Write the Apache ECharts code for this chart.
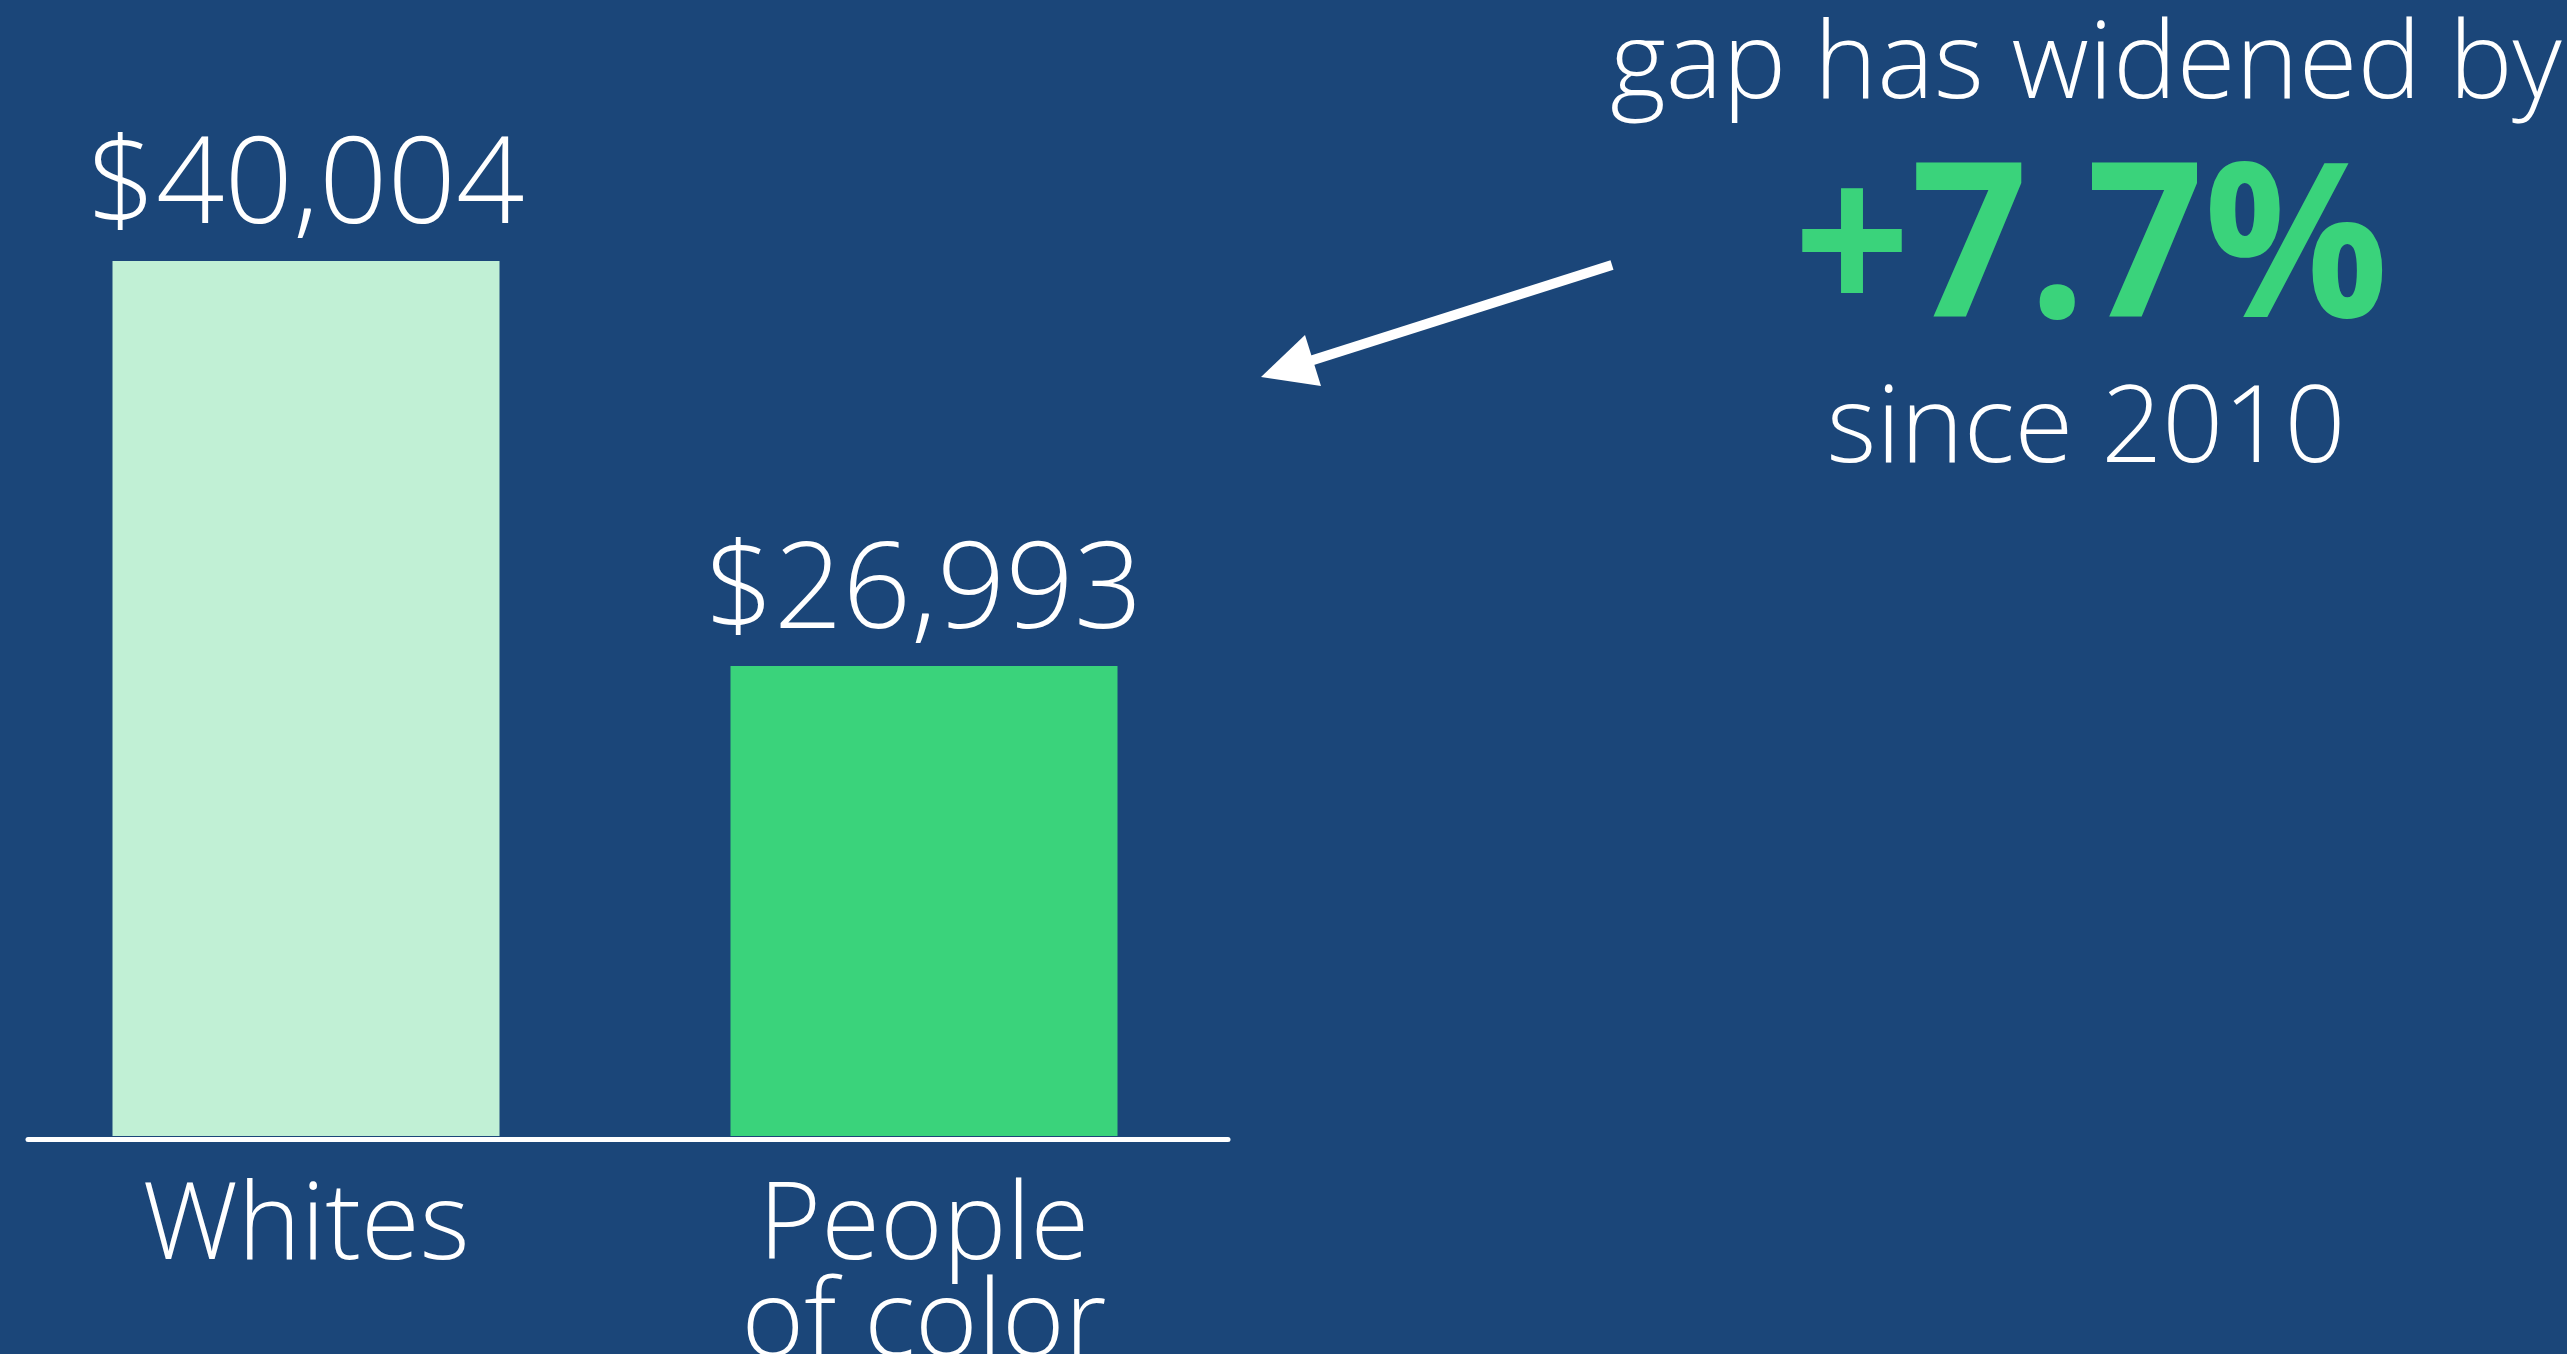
<!DOCTYPE html>
<html lang="en">
<head>
    <meta charset="UTF-8">
    <title>Income gap</title>
    <style>
        html, body {
            margin: 0;
            height: 100%;
            width: 100%;
            background: #1b4679;
        }
        .myEcharts {
            width: 100%;
            height: 100%;
        }
    </style>
</head>
<body>
    <div id="main" class="myEcharts"></div>
    <script src="https://cdn.jsdelivr.net/npm/echarts@6/dist/echarts.min.js"></script>
    <script>
        // data
        var groups = ['Whites', 'People\nof color'];
        var income = [40004, 26993];
        var barColors = ['#c1f0d5', '#3ad37b'];
        var noteTop = 'gap has widened by';
        var noteBig = '+7.7%';
        var noteBottom = 'since 2010';

        var font = '"Open Sans", Lato, sans-serif';
        var myCharts = echarts.init(document.getElementById('main'));

        var option = {
            backgroundColor: '#1b4679',
            animation: false,
            grid: [
                { left: -3, width: 1236, top: 261, bottom: 218, outerBoundsMode: 'none', containLabel: false },
                // only for the baseline rule under the bars
                { left: 28, width: 1200, top: 1000, bottom: 215, outerBoundsMode: 'none', containLabel: false }
            ],
            xAxis: [{
                type: 'category',
                gridIndex: 0,
                data: groups,
                axisLine: { show: false },
                axisTick: { show: false },
                axisLabel: {
                    color: '#ffffff',
                    fontFamily: font,
                    fontWeight: 300,
                    fontSize: 107,
                    lineHeight: 97,
                    margin: 44
                }
            }, {
                type: 'value',
                gridIndex: 1,
                min: 0,
                max: 1,
                axisLine: { show: true, onZero: false, lineStyle: { color: '#ffffff', width: 5 } },
                axisTick: { show: false },
                axisLabel: { show: false },
                splitLine: { show: false }
            }],
            yAxis: [{
                type: 'value',
                gridIndex: 0,
                min: 11900,
                max: 40004,
                show: false
            }, {
                type: 'value',
                gridIndex: 1,
                min: 0,
                max: 1,
                show: false
            }],
            series: [{
                type: 'bar',
                xAxisIndex: 0,
                yAxisIndex: 0,
                barWidth: 387,
                data: income.map(function (v, i) {
                    return { value: v, itemStyle: { color: barColors[i] } };
                }),
                label: {
                    show: true,
                    position: 'top',
                    distance: 12,
                    color: '#ffffff',
                    fontFamily: font,
                    fontWeight: 300,
                    fontSize: 120,
                    formatter: function (p) {
                        return '$' + p.value.toLocaleString('en-US');
                    }
                }
            }],
            graphic: [{
                type: 'text',
                x: 2086,
                y: 68,
                style: {
                    text: noteTop,
                    fill: '#ffffff',
                    font: '300 107px ' + font,
                    textAlign: 'center',
                    textVerticalAlign: 'middle'
                }
            }, {
                type: 'text',
                x: 2091,
                y: 256,
                scaleY: 1.05,
                style: {
                    text: noteBig,
                    fill: '#3ad37b',
                    font: 'bold 205px ' + font,
                    textAlign: 'center',
                    textVerticalAlign: 'middle'
                }
            }, {
                type: 'text',
                x: 2086,
                y: 432,
                style: {
                    text: noteBottom,
                    fill: '#ffffff',
                    font: '300 107px ' + font,
                    textAlign: 'center',
                    textVerticalAlign: 'middle'
                }
            }, {
                // arrow shaft
                type: 'line',
                shape: { x1: 1612, y1: 265, x2: 1310, y2: 361 },
                style: { stroke: '#ffffff', lineWidth: 10 }
            }, {
                // arrow head
                type: 'polygon',
                shape: { points: [[1261, 377], [1305, 335], [1321, 386]] },
                style: { fill: '#ffffff' }
            }]
        };
        myCharts.setOption(option);
    </script>
</body>
</html>
